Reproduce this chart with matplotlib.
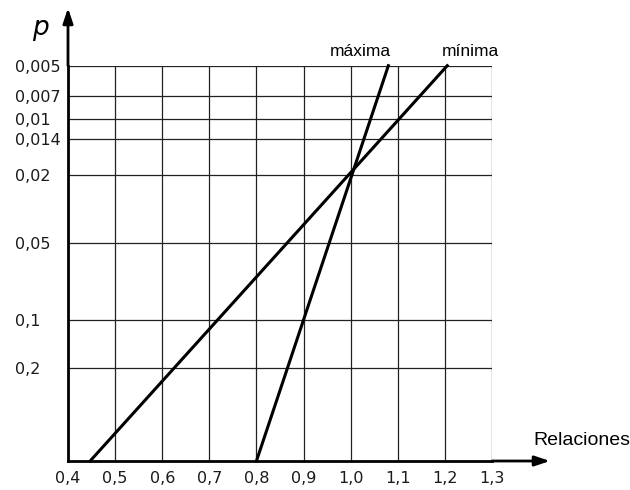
import numpy as np
import matplotlib as mpl
mpl.use("Agg")
import matplotlib.pyplot as plt

mpl.rcParams['font.family'] = ["DejaVu Sans"]

# probability ticks on the vertical axis and their depth below the top line
p_ticks  = [0.005, 0.007, 0.01, 0.014, 0.02, 0.05, 0.1, 0.2]
p_labels = ["0,005", "0,007", "0,01", "0,014", "0,02", "0,05", "0,1", "0,2"]
p_scale  = [0.005, 0.007, 0.01, 0.014, 0.02, 0.05, 0.1, 0.2, 0.5]
p_depth  = [0.0, 30.0, 53.3, 73.6, 109.3, 177.6, 254.6, 302.0, 395.3]
p_bottom = 0.5

x_ticks  = [0.4, 0.5, 0.6, 0.7, 0.8, 0.9, 1.0, 1.1, 1.2, 1.3]
x_labels = ["0,4", "0,5", "0,6", "0,7", "0,8", "0,9", "1,0", "1,1", "1,2", "1,3"]

# lines: relation vs p
maxima_x = [0.80, 1.08]
maxima_p = [p_bottom, 0.005]
minima_x = [0.447, 1.205]
minima_p = [p_bottom, 0.005]


def fwd(p):
    return np.interp(p, p_scale, p_depth)


def inv(d):
    return np.interp(d, p_depth, p_scale)


fig = plt.figure(figsize=(6.3, 4.9), dpi=100)
L, R, B, T = 68, 492, 461, 65.7
ax = fig.add_axes([L / 630, 1 - B / 490, (R - L) / 630, (B - T) / 490])
ax.set_yscale('function', functions=(fwd, inv))
ax.set_xlim(0.4, 1.3)
ax.set_ylim(p_bottom, 0.005)

ax.set_xticks(x_ticks)
ax.set_xticklabels(x_labels)
ax.set_yticks(p_ticks)
ax.set_yticklabels(p_labels)
ax.yaxis.set_minor_locator(mpl.ticker.NullLocator())
ax.tick_params(axis='both', length=0, labelsize=11.5, colors='#1a1a1a')
ax.tick_params(axis='x', pad=7)
ax.tick_params(axis='y', pad=38)
for t in ax.get_yticklabels():
    t.set_ha('left')

ax.grid(True, color='#222222', linewidth=0.9)
for s in ['top', 'right']:
    ax.spines[s].set_visible(False)
for s in ['left', 'bottom']:
    ax.spines[s].set_linewidth(2)
    ax.spines[s].set_color('black')
    ax.spines[s].set_zorder(5)

ax.plot(maxima_x, maxima_p, color='black', linewidth=2.2, clip_on=False, zorder=4)
ax.plot(minima_x, minima_p, color='black', linewidth=2.2, clip_on=False, zorder=4)

# axis arrows
arrow = dict(arrowstyle='-|>,head_length=0.9,head_width=0.3', color='black', lw=2,
             shrinkA=0, shrinkB=0)
ax.annotate('', xy=((550 - L) / (R - L), 0), xytext=(1.0, 0),
            xycoords='axes fraction', textcoords='axes fraction', arrowprops=arrow)
ax.annotate('', xy=(0, (B - 8) / (B - T)), xytext=(0, 1.0),
            xycoords='axes fraction', textcoords='axes fraction', arrowprops=arrow)

fig.text(40 / 630, 1 - 28 / 490, "p", fontsize=19, style='italic', ha='center', va='center')
fig.text(533 / 630, 1 - 440 / 490, "Relaciones", fontsize=14, family='Liberation Sans',
         ha='left', va='center')
fig.text(360 / 630, 1 - 52 / 490, "máxima", fontsize=12.5, family='Liberation Sans',
         ha='center', va='center')
fig.text(470 / 630, 1 - 52 / 490, "mínima", fontsize=12.5, family='Liberation Sans',
         ha='center', va='center')

fig.savefig('out.png', dpi=100)
